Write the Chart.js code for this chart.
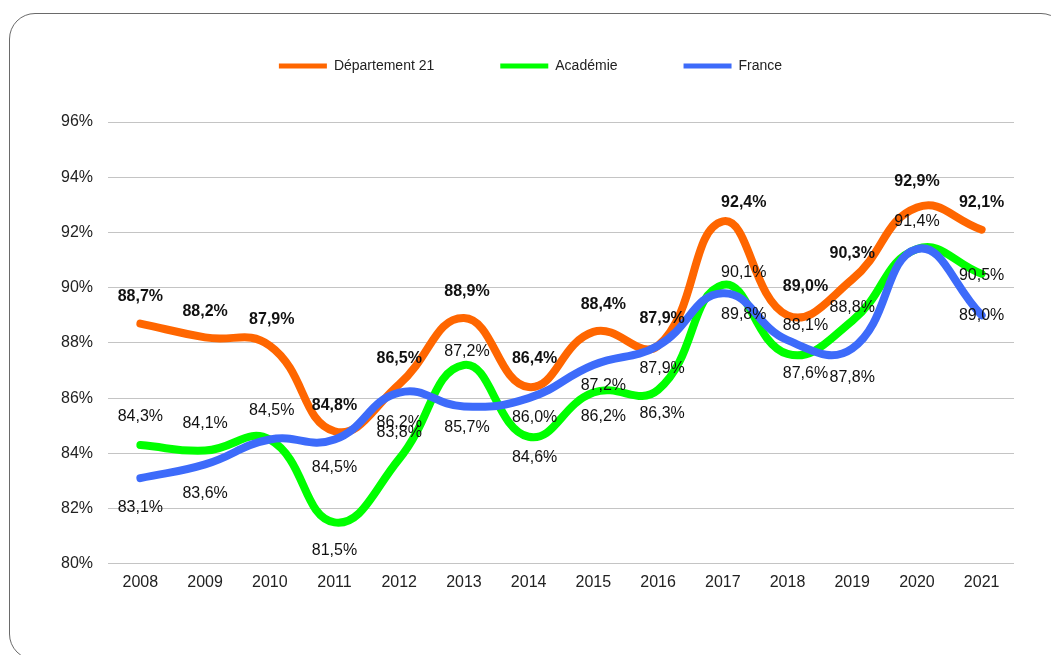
<!DOCTYPE html>
<html lang="fr">
<head>
<meta charset="utf-8">
<title>Taux de réussite</title>
<script src="https://cdn.jsdelivr.net/npm/chart.js@4"></script>
<style>
    html, body { margin: 0; padding: 0; background: #fff; overflow: hidden; }
    body { width: 1051px; height: 655px; position: relative; }
    .frame {
        position: absolute; left: 9px; top: 13px;
        width: 1056px; height: 645px;
        border: 1px solid #6a6a6a; border-radius: 26px;
    }
    .chart-box { position: absolute; left: 0; top: -20px; width: 1051px; height: 675px; }
</style>
</head>
<body>
<div class="frame"></div>
<div class="chart-box"><canvas id="resultChart"></canvas></div>
<script>
// Values
const years = ['2008', '2009', '2010', '2011', '2012', '2013', '2014', '2015', '2016', '2017', '2018', '2019', '2020', '2021'];
const dept21 = [88.7, 88.2, 87.9, 84.8, 86.5, 88.9, 86.4, 88.4, 87.9, 92.4, 89.0, 90.3, 92.9, 92.1];
const academie = [84.3, 84.1, 84.5, 81.5, 83.8, 87.2, 84.6, 86.2, 86.3, 90.1, 87.6, 88.8, 91.4, 90.5];
const france = [83.1, 83.6, 84.5, 84.5, 86.2, 85.7, 86.0, 87.2, 87.9, 89.8, 88.1, 87.8, 91.4, 89.0];
const yTicks = [80, 82, 84, 86, 88, 90, 92, 94, 96];

// Label placement (pixel shift from the point), null = hidden under another label
const deptLabelDy = [-27, -26, -26, -26, -26, -26, -28, -27, -27, -19, -29, -26, -26, -27];
const acadLabelDy = [-28, -27, -29, 28, -26, -13, 21, 24, 24, -12, 20, -13, -27, 2];
const franceLabelDy = [29, 29, null, 28, 30, 21, 19, 21, 23, 21, -15, 29, null, 0];
const labelDx = [0, 0, 2, 0, 0, 3, 6, 10, 4, 21, 18, 0, 0, 0];

const fmt = v => v.toFixed(1).replace('.', ',') + '%';

// Draws the value labels on top of the lines
const valueLabels = {
    id: 'valueLabels',
    afterDatasetsDraw(chart) {
        const ctx = chart.ctx;
        ctx.save();
        ctx.textAlign = 'center';
        ctx.textBaseline = 'middle';
        ctx.fillStyle = '#111';
        chart.data.datasets.forEach((ds, i) => {
            const meta = chart.getDatasetMeta(i);
            ctx.font = (ds.labelBold ? 'bold ' : '') + '16px "Liberation Sans", Arial, sans-serif';
            meta.data.forEach((pt, j) => {
                if (ds.labelDy[j] === null) return;
                ctx.fillText(fmt(ds.data[j]), pt.x + labelDx[j], pt.y + ds.labelDy[j]);
            });
        });
        ctx.restore();
    }
};

// Legend uses its padding as item spacing; fix its height by hand
const legendHeight = {
    id: 'legendHeight',
    beforeInit(chart) {
        const fit = chart.legend.fit;
        chart.legend.fit = function () {
            fit.call(this);
            this.height = 129;
        };
    }
};

const lineStyle = {
    borderWidth: 8,
    pointRadius: 0,
    pointHoverRadius: 0,
    tension: 0.45,
    borderCapStyle: 'round',
    borderJoinStyle: 'round',
    fill: false
};

new Chart(document.getElementById('resultChart'), {
    type: 'line',
    data: {
        labels: years,
        datasets: [
            { ...lineStyle, label: 'Département 21', data: dept21, borderColor: '#ff6600', backgroundColor: '#ff6600', order: 3, labelBold: true, labelDy: deptLabelDy },
            { ...lineStyle, label: 'Académie', data: academie, borderColor: '#00ff00', backgroundColor: '#00ff00', order: 2, labelDy: acadLabelDy },
            { ...lineStyle, label: 'France', data: france, borderColor: '#3d6bfa', backgroundColor: '#3d6bfa', order: 1, labelDy: franceLabelDy }
        ]
    },
    options: {
        responsive: true,
        maintainAspectRatio: false,
        animation: false,
        events: [],
        layout: { padding: { top: 13, right: 37, left: 47, bottom: 62 } },
        plugins: {
            tooltip: { enabled: false },
            legend: {
                position: 'top',
                align: 'center',
                labels: {
                    boxWidth: 48,
                    boxHeight: 5,
                    useBorderRadius: true,
                    borderRadius: 2.5,
                    padding: 66,
                    color: '#222',
                    font: { family: '"Liberation Sans", Arial, sans-serif', size: 14 },
                    generateLabels: chart => chart.data.datasets.map((ds, i) => ({
                        text: ds.label,
                        fillStyle: ds.borderColor,
                        strokeStyle: ds.borderColor,
                        lineWidth: 0,
                        fontColor: '#222',
                        hidden: false,
                        datasetIndex: i
                    }))
                }
            }
        },
        scales: {
            x: {
                offset: true,
                grid: { display: false },
                border: { display: false },
                ticks: {
                    padding: 1,
                    color: '#222',
                    font: { family: '"Liberation Sans", Arial, sans-serif', size: 16 }
                }
            },
            y: {
                min: yTicks[0],
                max: yTicks[yTicks.length - 1],
                afterBuildTicks: axis => { axis.ticks = yTicks.map(v => ({ value: v })); },
                afterFit: axis => { axis.width = 61; },
                grid: { color: '#c4c4c4', lineWidth: 1, drawTicks: false },
                border: { display: false },
                ticks: {
                    padding: 15,
                    color: '#222',
                    font: { family: '"Liberation Sans", Arial, sans-serif', size: 16 },
                    callback: v => v + '%'
                }
            }
        }
    },
    plugins: [legendHeight, valueLabels]
});
</script>
</body>
</html>
